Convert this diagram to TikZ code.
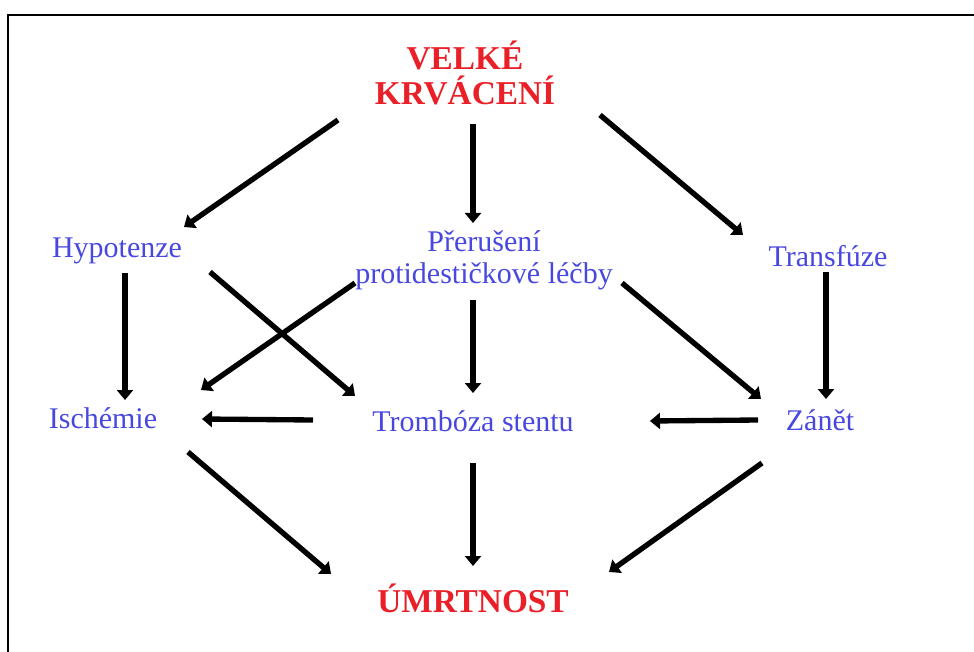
\documentclass[tikz,border=0pt]{standalone}
\usepackage{fontspec}
\setmainfont{Liberation Serif}
\usetikzlibrary{arrows.meta,calc}
\definecolor{headred}{RGB}{234,32,40}
\definecolor{itemblue}{RGB}{72,72,222}
\tikzset{
  head/.style={text=headred,font=\fontsize{25}{26.5}\selectfont\bfseries,align=center,inner sep=0pt},
  item/.style={text=itemblue,font=\fontsize{22.5}{24}\selectfont,align=center,inner sep=0pt},
  arr/.style={line width=4pt,-{Triangle[width=12pt,length=7.5pt]}},
  frame/.style={line width=1.6pt}
}
\begin{document}
\begin{tikzpicture}[x=0.75pt,y=-0.75pt]
\useasboundingbox (0,0) rectangle (974,652);
% open frame: left and top edges only
\draw[frame] (8,652) -- (8,15) -- (974,15);

% nodes
\node[head] (vk) at (465,73) {VELKÉ\\KRVÁCENÍ};
\node[item] (hyp) at (117,251) {Hypotenze};
\node[item] (prer) at (484,260) {Přerušení\\protidestičkové léčby};
\node[item] (trans) at (828,256) {Transfúze};
\node[item] (isch) at (103,418) {Ischémie};
\node[item] (tromb) at (473,421) {Trombóza stentu};
\node[item] (zanet) at (820,420) {Zánět};
\node[head] (umrt) at (473,598) {ÚMRTNOST};

% connectors
\draw[arr] ($(vk)+(-127,47)$) -- ($(hyp)+(67,-24)$);
\draw[arr] ($(vk)+(8,51)$) -- ($(prer)+(-11,-37)$);
\draw[arr] ($(vk)+(135,42)$) -- ($(trans)+(-85,-21)$);
\draw[arr] ($(hyp)+(8,22)$) -- ($(isch)+(22,-18)$);
\draw[arr] ($(hyp)+(93,21)$) -- ($(tromb)+(-118,-25)$);
\draw[arr] ($(prer)+(-129,23)$) -- ($(isch)+(98,-28)$);
\draw[arr] ($(prer)+(-11,40)$) -- ($(tromb)+(0,-28)$);
\draw[arr] ($(prer)+(138,23)$) -- ($(zanet)+(-59,-21)$);
\draw[arr] ($(trans)+(-2,16)$) -- ($(zanet)+(6,-21)$);
\draw[arr] ($(tromb)+(-160,-1)$) -- ($(isch)+(99,1)$);
\draw[arr] ($(zanet)+(-62,0)$) -- ($(tromb)+(177,0)$);
\draw[arr] ($(isch)+(85,34)$) -- ($(umrt)+(-142,-24)$);
\draw[arr] ($(tromb)+(0,42)$) -- ($(umrt)+(0,-32)$);
\draw[arr] ($(zanet)+(-58,43)$) -- ($(umrt)+(136,-26)$);
\end{tikzpicture}
\end{document}
